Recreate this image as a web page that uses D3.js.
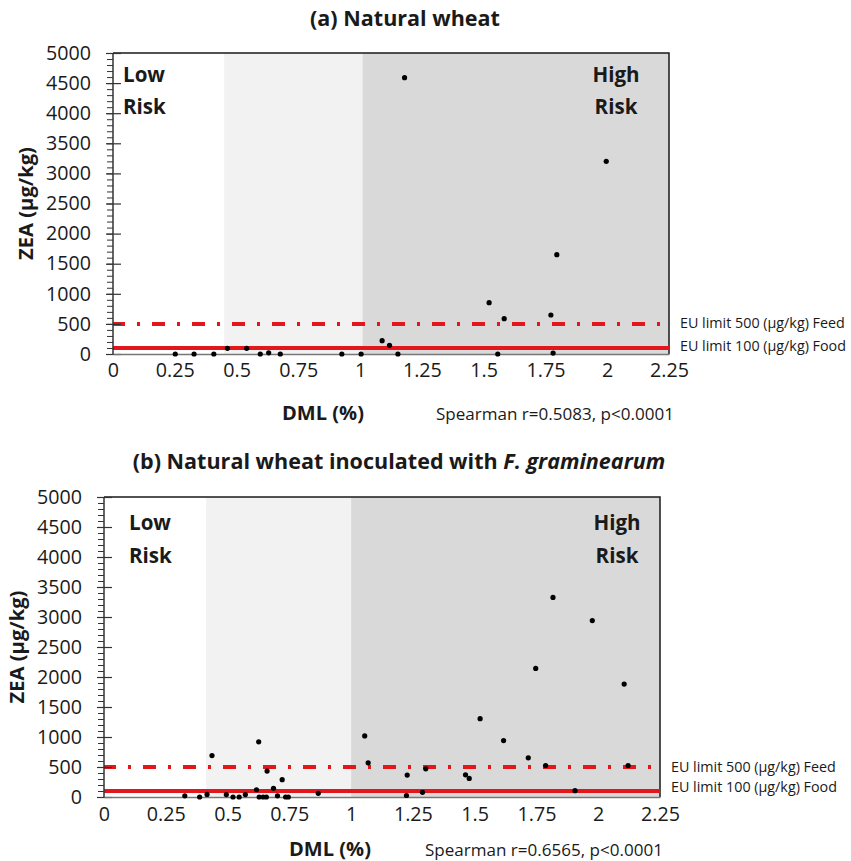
<!DOCTYPE html>
<html><head><meta charset="utf-8">
<script src="https://cdn.jsdelivr.net/npm/d3@7"></script>
<style>body{margin:0;background:#fff}svg{display:block}text{font-family:"Open Sans",sans-serif;fill:#1a1a1a}</style>
</head><body>
<svg id="c" width="851" height="861"></svg>
<script>
// ---- data ----
const xTicks = [0, 0.25, 0.5, 0.75, 1, 1.25, 1.5, 1.75, 2, 2.25];
const yTicks = [0, 500, 1000, 1500, 2000, 2500, 3000, 3500, 4000, 4500, 5000];
const euLimits = [500, 100];
const euLabels = ["EU limit 500 (µg/kg) Feed", "EU limit 100 (µg/kg) Food"];

const zoneA = [0.45, 1.01];
const dmlA = [0.252,0.328,0.408,0.463,0.541,0.596,0.630,0.677,0.926,1.004,1.089,1.119,1.153,1.180,1.522,1.557,1.583,1.772,1.781,1.796,1.996];
const zeaA = [0,0,0,95,95,0,20,0,0,0,221,144,0,4590,852,0,586,648,15,1650,3201];
const spearmanA = "Spearman r=0.5083, p<0.0001";

const zoneB = [0.413, 1.0];
const dmlB = [0.327,0.387,0.417,0.437,0.495,0.522,0.547,0.572,0.617,0.626,0.628,0.644,0.657,0.660,0.686,0.702,0.721,0.735,0.746,0.867,1.055,1.069,1.224,1.227,1.289,1.302,1.463,1.478,1.522,1.617,1.717,1.747,1.787,1.817,1.906,1.976,2.105,2.121];
const zeaB = [20,0,43,691,40,0,0,40,121,919,0,0,0,432,144,20,288,0,0,61,1018,570,25,365,78,470,370,310,1306,940,653,2143,525,3327,105,2940,1882,525];
const spearmanB = "Spearman r=0.6565, p<0.0001";

const svg = d3.select("#c");
const RED = "#e3161c";

// font size so that a string has a given rendered width
function fit(str, target, weight, style) {
  const t = svg.append("text").attr("font-size", 100).attr("font-weight", weight || "normal")
    .attr("font-style", style || "normal").text(str);
  const w = t.node().getComputedTextLength();
  t.remove();
  return 100 * target / w;
}
const FS = {
  tick: fit("5000", 45),
  xtick: fit("0.25", 39),
  risk: fit("Low", 42, "bold"),
  ytitle: fit("ZEA (µg/kg)", 113, "bold"),
  xtitle: fit("DML (%)", 82, "bold"),
  sp: fit(spearmanA, 238),
  eu: fit(euLabels[0], 165),
  title: fit("(a) Natural wheat", 190, "bold")
};

function panel(cfg) {
  const x = d3.scaleLinear().domain([0, 2.25]).range([cfg.left, cfg.right]);
  const y = d3.scaleLinear().domain([0, 5000]).range([cfg.bottom, cfg.top]);
  const g = svg.append("g");

  g.append("rect").attr("x", x(cfg.zone[0])).attr("y", y(5000))
    .attr("width", x(cfg.zone[1]) - x(cfg.zone[0])).attr("height", y(0) - y(5000)).attr("fill", "#f2f2f2");
  g.append("rect").attr("x", x(cfg.zone[1])).attr("y", y(5000))
    .attr("width", x(2.25) - x(cfg.zone[1])).attr("height", y(0) - y(5000)).attr("fill", "#d9d9d9");

  g.append("path").attr("d", `M${x(0)},${y(5000)}H${x(2.25)}V${y(0)}`)
    .attr("fill", "none").attr("stroke", "#1a1a1a").attr("stroke-width", 1.5);

  g.append("line").attr("x1", x(0)).attr("x2", x(2.25)).attr("y1", y(euLimits[0])).attr("y2", y(euLimits[0]))
    .attr("stroke", RED).attr("stroke-width", 4).attr("stroke-dasharray", "13,12,3,12").attr("stroke-dashoffset", 1);
  g.append("line").attr("x1", x(0)).attr("x2", x(2.25)).attr("y1", y(euLimits[1])).attr("y2", y(euLimits[1]))
    .attr("stroke", RED).attr("stroke-width", 4);

  const minor = d3.range(0, 5001, 100);
  g.append("g").attr("transform", `translate(${x(0)},0)`)
    .call(d3.axisLeft(y).tickValues(minor).tickSize(6).tickFormat(""))
    .call(a => a.select(".domain").remove())
    .call(a => a.selectAll("line").attr("stroke", "#333").attr("stroke-width", 1));

  const ya = g.append("g").attr("transform", `translate(${x(0)},0)`)
    .call(d3.axisLeft(y).tickValues(yTicks).tickSize(7).tickPadding(15).tickFormat(d3.format("d")));
  ya.select(".domain").remove();
  ya.selectAll(".tick line").attr("x2", 8).attr("x1", -7).attr("stroke", "#333").attr("stroke-width", 1.2);
  ya.selectAll("text").attr("font-size", FS.tick).attr("font-family", "Open Sans").attr("fill", "#1a1a1a");
  g.append("line").attr("x1", x(0)).attr("x2", x(0)).attr("y1", y(0)).attr("y2", y(5000))
    .attr("stroke", "#333").attr("stroke-width", 1.5);

  const xa = g.append("g").attr("transform", `translate(0,${y(0)})`)
    .call(d3.axisBottom(x).tickValues(xTicks).tickSize(0).tickPadding(cfg.xPad).tickFormat(d3.format("")));
  xa.select(".domain").attr("stroke", "#777").attr("stroke-width", 1.5);
  xa.selectAll("text").attr("font-size", FS.xtick).attr("font-family", "Open Sans").attr("fill", "#1a1a1a");

  g.selectAll("circle.pt").data(cfg.dml.map((d, i) => [d, cfg.zea[i]])).join("circle")
    .attr("class", "pt").attr("cx", d => x(d[0])).attr("cy", d => y(d[1])).attr("r", 2.6).attr("fill", "#000");

  const lowX = x(0) + cfg.lowDx;
  const highX = x(2.25) - cfg.highDx;
  const rk = (tx, ty, s, anchor) => g.append("text").attr("x", tx).attr("y", ty).attr("font-size", FS.risk)
    .attr("font-weight", "bold").attr("text-anchor", anchor).text(s);
  rk(lowX, cfg.riskY1, "Low", "start");
  rk(lowX, cfg.riskY2, "Risk", "start");
  rk(highX, cfg.riskY1, "High", "middle");
  rk(highX, cfg.riskY2, "Risk", "middle");

  g.append("text").attr("x", x(2.25) + 11).attr("y", y(euLimits[0]) + 4.5).attr("font-size", FS.eu).text(euLabels[0]);
  g.append("text").attr("x", x(2.25) + 11).attr("y", y(euLimits[1]) + cfg.food).attr("font-size", FS.eu).text(euLabels[1]);

  g.append("text").attr("x", cfg.titleX).attr("y", cfg.titleY).attr("text-anchor", "middle")
    .attr("font-size", FS.title).attr("font-weight", "bold").call(t => cfg.title(t));
  g.append("text").attr("transform", `translate(${cfg.yTitleX},${(y(0) + y(5000)) / 2}) rotate(-90)`)
    .attr("text-anchor", "middle").attr("font-size", FS.ytitle).attr("font-weight", "bold").text("ZEA (µg/kg)");
  g.append("text").attr("x", cfg.dmlX).attr("y", cfg.xTitleY).attr("text-anchor", "middle")
    .attr("font-size", FS.xtitle).attr("font-weight", "bold").text("DML (%)");
  g.append("text").attr("x", cfg.spX).attr("y", cfg.xTitleY).attr("font-size", FS.sp).text(cfg.spearman);
}

panel({
  left: 113, right: 669, top: 53, bottom: 354, zone: zoneA, dml: dmlA, zea: zeaA,
  xPad: 9, lowDx: 10, highDx: 53, riskY1: 82, riskY2: 114, food: 3, titleX: 405, titleY: 26,
  title: t => t.text("(a) Natural wheat"),
  yTitleX: 33, dmlX: 323, xTitleY: 420, spX: 436, spearman: spearmanA
});
panel({
  left: 104, right: 660, top: 497, bottom: 797, zone: zoneB, dml: dmlB, zea: zeaB,
  xPad: 10, lowDx: 25, highDx: 43, riskY1: 530, riskY2: 563, food: 1, titleX: 399, titleY: 469,
  title: t => { t.append("tspan").text("(b) Natural wheat inoculated with "); t.append("tspan").attr("font-style", "italic").text("F. graminearum"); },
  yTitleX: 24, dmlX: 330, xTitleY: 856, spX: 425, spearman: spearmanB
});
</script>
</body></html>
